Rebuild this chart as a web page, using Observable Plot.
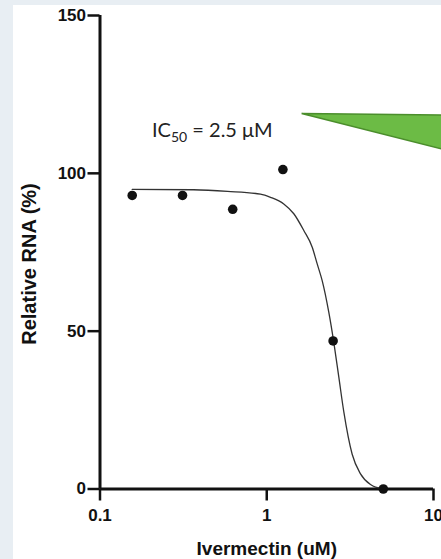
<!DOCTYPE html>
<html><head><meta charset="utf-8">
<script src="https://cdn.jsdelivr.net/npm/d3@7"></script>
<script src="https://cdn.jsdelivr.net/npm/@observablehq/plot@0.6"></script>
<style>
html,body{margin:0;padding:0;overflow:hidden;width:441px;height:559px;}
body{background:#e8eef3;position:relative;}
#panel{position:absolute;left:13px;top:5px;right:0;bottom:0;background:#fff;}
#chart{position:absolute;left:0;top:0;}
</style></head><body>
<div id="panel"></div><div id="chart"></div>
<script>
// measured data points
const concentrations = [0.156, 0.3125, 0.625, 1.25, 2.5, 5];
const relativeRNA = [93.0, 93.0, 88.6, 101.2, 46.9, 0];
// fitted curve
const fitX = [0.156, 0.364, 0.582, 0.917, 1.053, 1.265, 1.453, 1.668, 1.874, 2.007, 2.150, 2.355, 2.523, 2.704, 2.897, 3.253, 3.650, 4.190, 4.490, 5.0];
const fitY = [94.9, 94.8, 94.3, 93.4, 92.4, 90.3, 87.2, 81.9, 76.6, 71.3, 66.0, 56.0, 46.5, 35.5, 24.5, 11.0, 4.8, 1.4, 0.6, 0.2];
const xTicks = [0.1, 1, 10];
const xTickLabels = ["0.1", "1", "10"];
const yTicks = [0, 50, 100, 150];
const xLabel = "Ivermectin (uM)";
const yLabel = "Relative RNA (%)";
const annMain = "IC";
const annSub = "50";
const annRest = " = 2.5 \u03bcM";
const annPos = [0.2064, 111.3];
const arrowPts = [[1.63, 118.8], [12, 118.3], [12, 107.2]];

const points = concentrations.map((c, i) => ({x: c, y: relativeRNA[i]}));
const fit = fitX.map((c, i) => ({x: c, y: fitY[i]}));

const plot = Plot.plot({
  width: 441, height: 559,
  marginLeft: 99.5, marginRight: 8, marginTop: 15, marginBottom: 70.5,
  style: {background: "transparent", fontFamily: "'Liberation Sans', Arial, sans-serif", fontWeight: "bold", fontSize: "17px", color: "#111", overflow: "visible"},
  x: {type: "log", domain: [0.1, 10]},
  y: {domain: [0, 150]},
  marks: [
    Plot.axisY(yTicks, {tickSize: 12, tickPadding: 2, strokeWidth: 2.5, label: null, fontSize: 17}),
    Plot.axisX(xTicks, {tickSize: 12, tickPadding: 8, strokeWidth: 2.5, label: null, fontSize: 17, tickFormat: d => xTickLabels[xTicks.indexOf(d)]}),
    Plot.ruleX([0.1], {y1: 0, y2: 150, strokeWidth: 3, stroke: "#111"}),
    Plot.ruleY([0], {x1: 0.1, x2: 10, strokeWidth: 3, stroke: "#111"}),
    Plot.line(fit, {x: "x", y: "y", curve: "monotone-x", stroke: "#333", strokeWidth: 1.3}),
    Plot.dot(points, {x: "x", y: "y", r: 4.8, fill: "#111", stroke: "none"}),
    Plot.text([xLabel], {frameAnchor: "bottom", dy: 59.5, lineAnchor: "middle", fontSize: 19, fontWeight: "bold", fill: "#111"})
  ]
});
document.getElementById("chart").appendChild(plot);

const sx = plot.scale("x"), sy = plot.scale("y");
const svg = d3.select(plot);
svg.append("text")
  .attr("transform", "translate(28.7,264) rotate(-90)")
  .attr("text-anchor", "middle").attr("dominant-baseline", "central")
  .style("font-size", "20px").style("font-weight", "bold").attr("fill", "#111")
  .text(yLabel);
svg.append("polygon")
  .attr("points", arrowPts.map(([a, b]) => [sx.apply(a), sy.apply(b)].join(",")).join(" "))
  .attr("fill", "#6cbb45").attr("stroke", "#4b8e2c").attr("stroke-width", 1.5);
const t = svg.append("text")
  .attr("x", sx.apply(annPos[0])).attr("y", sy.apply(annPos[1]))
  .attr("text-anchor", "start")
  .style("font-family", "Lato, 'Open Sans', sans-serif").style("font-weight", "normal")
  .style("font-size", "20px").attr("fill", "#222");
t.append("tspan").text(annMain);
t.append("tspan").attr("font-size", "14px").attr("dy", 5).text(annSub);
t.append("tspan").attr("dy", -5).text(annRest);
</script>
</body></html>
